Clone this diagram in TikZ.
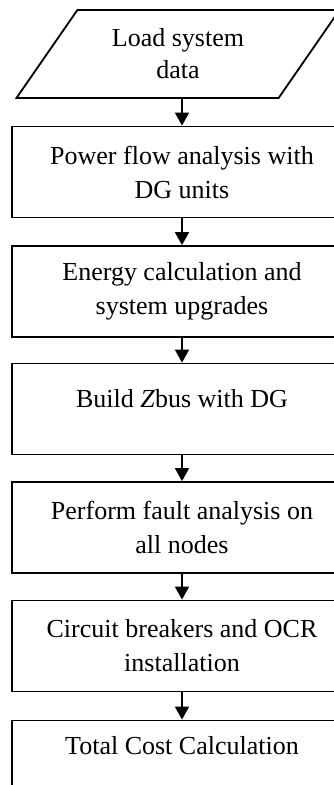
\documentclass[tikz,border=0pt]{standalone}
\usepackage{fontspec}
\setmainfont{Liberation Serif}
\usetikzlibrary{arrows.meta,shapes.geometric}

\begin{document}
\begin{tikzpicture}[x=1pt, y=-1pt]
\tikzset{stepbox/.style = {shape=rectangle, draw, line width=1.8pt, minimum width=340pt, minimum height=91pt, inner sep=0pt, align=center, font=\fontsize{26}{34}\selectfont}}
\tikzset{datain/.style = {shape=trapezium, trapezium left angle=51.5, trapezium right angle=128.5, trapezium stretches=true, draw, line width=1.8pt, minimum width=324pt, minimum height=88pt, inner sep=0pt, align=center, font=\fontsize{26}{32}\selectfont}}
\tikzset{flow/.style = {draw, line width=1.8pt, -{Triangle[width=14pt,length=13pt]}}}
\useasboundingbox (0,0) rectangle (334,785);
\clip (0,0) rectangle (334,785);

% blocks of the flow chart
\node[datain] (load) at (178,54) {Load system\\data};
\node[stepbox] (power) at (182,172) {Power flow analysis with\\DG units};
\node[stepbox] (energy) at (182,291.5) {Energy calculation and\\system upgrades};
\node[stepbox] (zbus) at (182,409) {Build \textit{Z}bus with DG\\[-12pt]~};
\node[stepbox] (fault) at (182,527.5) {Perform fault analysis on\\all nodes};
\node[stepbox] (breaker) at (182,646) {Circuit breakers and OCR\\installation};
\node[stepbox] (cost) at (182,766) {Total Cost Calculation\\[8pt]~};

% arrows between the blocks
\draw[flow] (power.north |- load.south) -- (power.north);
\draw[flow] (power) -- (energy);
\draw[flow] (energy) -- (zbus);
\draw[flow] (zbus) -- (fault);
\draw[flow] (fault) -- (breaker);
\draw[flow] (breaker) -- (cost);
\end{tikzpicture}
\end{document}
